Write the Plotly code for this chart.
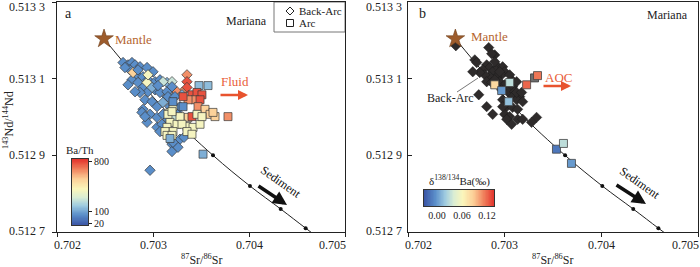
import numpy as np
import plotly.graph_objects as go

FONT = "Liberation Serif"

# ---------------- Panel a : Back-Arc (diamonds), colour = Ba/Th ----------------
a_ba_x = [0.702688, 0.702740, 0.702781, 0.702813, 0.702865, 0.702938, 0.703000, 0.702760,
          0.702833, 0.702896, 0.702948, 0.703021, 0.703073, 0.703146, 0.703198, 0.702781,
          0.702844, 0.702896, 0.702948, 0.703021, 0.703073, 0.703146, 0.703208, 0.702865,
          0.702917, 0.702990, 0.703042, 0.703104, 0.703177, 0.702896, 0.702969, 0.703042,
          0.703104, 0.703156, 0.703250, 0.703281, 0.702938, 0.703042, 0.703094, 0.702792,
          0.702938, 0.703104, 0.703354, 0.703354, 0.703354, 0.703302, 0.703250, 0.703198,
          0.703281, 0.703323, 0.703198, 0.703260, 0.702969, 0.702885, 0.702917, 0.703073,
          0.703208, 0.703146, 0.703198, 0.703156, 0.703302, 0.703229, 0.702708, 0.702844,
          0.702948, 0.702990, 0.703052, 0.702740, 0.702813]
a_ba_y = [0.513142, 0.513136, 0.513142, 0.513136, 0.513131, 0.513129, 0.513118, 0.513123,
          0.513110, 0.513105, 0.513097, 0.513092, 0.513097, 0.513090, 0.513092, 0.513097,
          0.513090, 0.513077, 0.513066, 0.513071, 0.513064, 0.513053, 0.513051, 0.513064,
          0.513045, 0.513040, 0.513027, 0.513038, 0.513027, 0.513020, 0.513007, 0.512999,
          0.513007, 0.512994, 0.513014, 0.513027, 0.512986, 0.512973, 0.512981, 0.513116,
          0.513090, 0.513092, 0.513110, 0.513092, 0.513077, 0.513064, 0.513066, 0.512929,
          0.512942, 0.512947, 0.512910, 0.512921, 0.512861, 0.513012, 0.513001, 0.512962,
          0.512934, 0.513066, 0.513079, 0.513053, 0.513058, 0.513053, 0.513129, 0.513123,
          0.513110, 0.513077, 0.513082, 0.513084, 0.513066]
a_ba_bath = [80, 80, 80, 80, 80, 80, 80, 80,
             80, 80, 80, 80, 80, 130, 270, 80,
             80, 80, 80, 80, 80, 80, 80, 80,
             80, 80, 80, 130, 80, 80, 80, 80,
             80, 80, 80, 80, 80, 80, 80, 550,
             400, 270, 670, 780, 780, 670, 670, 80,
             80, 80, 80, 80, 80, 80, 80, 80,
             80, 80, 80, 80, 130, 80, 80, 80,
             400, 130, 80, 80, 80]

# ---------------- Panel a : Arc (squares), colour = Ba/Th ----------------
a_arc_x = [0.703479, 0.703573, 0.703406, 0.703458, 0.703510, 0.703438, 0.703490, 0.703365,
           0.703313, 0.703469, 0.703542, 0.703594, 0.703646, 0.703781, 0.703313, 0.703208,
           0.703177, 0.703208, 0.703177, 0.703250, 0.703365, 0.703406, 0.703458, 0.703354,
           0.703417, 0.703490, 0.703156, 0.703146, 0.703208, 0.703125, 0.703281, 0.703302,
           0.703625, 0.703354, 0.703406, 0.703521, 0.703146, 0.703198, 0.703177, 0.703198,
           0.703510, 0.703208]
a_arc_y = [0.513082, 0.513082, 0.513058, 0.513064, 0.513058, 0.513045, 0.513045, 0.513045,
           0.513053, 0.513027, 0.513020, 0.513007, 0.513001, 0.513001, 0.513027, 0.513027,
           0.513012, 0.512999, 0.512986, 0.512981, 0.512999, 0.513001, 0.513007, 0.512975,
           0.512973, 0.512981, 0.513007, 0.512973, 0.512962, 0.512962, 0.513001, 0.512981,
           0.513012, 0.512962, 0.512955, 0.512903, 0.512952, 0.512952, 0.512944, 0.513014,
           0.513001, 0.513040]
a_arc_bath = [160, 160, 780, 780, 780, 670, 780, 670,
              780, 670, 550, 550, 550, 670, 80, 400,
              400, 270, 400, 400, 550, 780, 400, 400,
              400, 400, 400, 400, 400, 400, 400, 400,
              550, 400, 400, 130, 400, 400, 130, 400,
              400, 80]

# ---------------- Panel b : Back-Arc (black diamonds) ----------------
b_ba_x = [0.702495, 0.702691, 0.702711, 0.702835, 0.702897, 0.702814, 0.702845, 0.702773,
          0.702876, 0.702928, 0.702979, 0.703000, 0.702969, 0.702918, 0.702845, 0.702794,
          0.702814, 0.702866, 0.702948, 0.703000, 0.703082, 0.703031, 0.702969, 0.703103,
          0.703082, 0.703155, 0.703124, 0.703186, 0.702979, 0.703021, 0.703082, 0.702814,
          0.702732, 0.702876, 0.703000, 0.703052, 0.703021, 0.703072, 0.703134, 0.703186,
          0.703330, 0.703278, 0.703072, 0.703124, 0.702979, 0.703134, 0.702866, 0.702742,
          0.702670, 0.703124, 0.703175, 0.702897, 0.702948, 0.702897, 0.703052]
b_ba_y = [0.513186, 0.513149, 0.513142, 0.513181, 0.513162, 0.513136, 0.513129, 0.513123,
          0.513118, 0.513131, 0.513131, 0.513118, 0.513110, 0.513105, 0.513105, 0.513110,
          0.513092, 0.513090, 0.513092, 0.513084, 0.513079, 0.513066, 0.513071, 0.513066,
          0.513053, 0.513053, 0.513045, 0.513040, 0.513045, 0.513027, 0.513025, 0.513027,
          0.513058, 0.513007, 0.513007, 0.513001, 0.512994, 0.512981, 0.512994, 0.512994,
          0.512999, 0.512986, 0.513097, 0.513092, 0.513027, 0.513020, 0.513165, 0.513116,
          0.513118, 0.513064, 0.513064, 0.513144, 0.513118, 0.513097, 0.513110]

# ---------------- Panel b : Arc (squares), colour = d138/134Ba ----------------
b_arc_x = [0.703309, 0.702897, 0.703052, 0.702969, 0.703041, 0.703227, 0.703340,
           0.703536, 0.703608, 0.703691]
b_arc_y = [0.513102, 0.513084, 0.513090, 0.513069, 0.513040, 0.513084, 0.513108,
           0.512916, 0.512931, 0.512879]
b_arc_dba = [None, 0.08, 0.03, 0.00, 0.015, 0.12, 0.115, -0.015, 0.03, 0.00]

# ---------------- Mixing line (mantle - sediment) ----------------
mix_x = [0.70249, 0.70312, 0.703625, 0.70401, 0.70433, 0.70459, 0.70475]
mix_y = [0.513204, 0.513020, 0.512900, 0.512820, 0.512760, 0.512710, 0.512680]
mix_tick_x = [0.70312, 0.703625, 0.70401, 0.70433, 0.70459]
mix_tick_y = [0.513020, 0.512900, 0.512820, 0.512760, 0.512710]
mantle_x, mantle_y = 0.70249, 0.513204

x_ticks = [0.702, 0.703, 0.704, 0.705]
x_ticktext = ["0.702", "0.703", "0.704", "0.705"]
y_ticks = [0.5127, 0.5129, 0.5131, 0.5133]
y_ticktext = ["0.512 7", "0.512 9", "0.513 1", "0.513 3"]

bath_ticks = [20, 100, 800]
dba_ticks = [0.00, 0.06, 0.12]
dba_range = [-0.031, 0.137]

# Ba/Th colour bar is non-linear: 20 -> 0.03, 100 -> 0.2, 800 -> 0.96
bath_knots = [20, 100, 800]
bath_pos = [0.03, 0.2, 0.96]
def bath_scale(v):
    return np.interp(v, bath_knots, bath_pos)

cscale = [[0.0, "#3953a4"], [0.16, "#5b8fca"], [0.3, "#9fcbe0"], [0.42, "#d9edd4"],
          [0.55, "#fbf6bb"], [0.7, "#fccf97"], [0.85, "#f0805c"], [1.0, "#e2302b"]]

W, H = 700, 267
def px(x):
    return x / W
def py(y):
    return 1 - y / H

A_L, A_R, B_L, B_R, TOP, BOT = 57, 345, 408, 698, 2, 232
def xpix(v, left, right):
    return left + (v - 0.702) / 0.003 * (right - left)
def ypix(v):
    return BOT - (v - 0.5127) / 0.0006 * (BOT - TOP)

fig = go.Figure()

for xa, ya in (("x", "y"), ("x2", "y2")):
    fig.add_trace(go.Scatter(x=mix_x, y=mix_y, mode="lines", line=dict(color="#222", width=1, shape="spline"),
                             xaxis=xa, yaxis=ya, showlegend=False, hoverinfo="skip"))

fig.add_trace(go.Scatter(x=a_ba_x, y=a_ba_y, mode="markers", xaxis="x", yaxis="y", showlegend=False,
                         marker=dict(symbol="diamond", size=8, color=bath_scale(a_ba_bath),
                                     colorscale=cscale, cmin=0, cmax=1, showscale=False,
                                     line=dict(color="#3a3a3a", width=0.7))))
fig.add_trace(go.Scatter(x=a_arc_x, y=a_arc_y, mode="markers", xaxis="x", yaxis="y", showlegend=False,
                         marker=dict(symbol="square", size=8, color=bath_scale(a_arc_bath),
                                     colorscale=cscale, cmin=0, cmax=1, showscale=False,
                                     line=dict(color="#3a3a3a", width=0.7))))
for xa, ya, tx, ty in (("x", "y", mix_tick_x[1:], mix_tick_y[1:]), ("x2", "y2", mix_tick_x, mix_tick_y)):
    fig.add_trace(go.Scatter(x=tx, y=ty, mode="markers", xaxis=xa, yaxis=ya, showlegend=False,
                             marker=dict(size=4, color="#111")))

fig.add_trace(go.Scatter(x=b_ba_x, y=b_ba_y, mode="markers", xaxis="x2", yaxis="y2", showlegend=False,
                         marker=dict(symbol="diamond", size=8, color="#2e2b2b", line=dict(color="#1a1a1a", width=0.5))))
fig.add_trace(go.Scatter(x=b_arc_x[:1], y=b_arc_y[:1], mode="markers", xaxis="x2", yaxis="y2", showlegend=False,
                         marker=dict(symbol="square", size=8, color="#6f6f6f", line=dict(color="#333", width=0.8))))
fig.add_trace(go.Scatter(x=b_arc_x[1:], y=b_arc_y[1:], mode="markers", xaxis="x2", yaxis="y2", showlegend=False,
                         marker=dict(symbol="square", size=8, color=b_arc_dba[1:], colorscale=cscale,
                                     cmin=dba_range[0], cmax=dba_range[1], showscale=False,
                                     line=dict(color="#444", width=0.8))))

for xa, ya in (("x", "y"), ("x2", "y2")):
    fig.add_trace(go.Scatter(x=[mantle_x], y=[mantle_y], mode="markers", xaxis=xa, yaxis=ya, showlegend=False,
                             marker=dict(symbol="star", size=14, color="#9d5c2c", line=dict(color="#6e3e1a", width=0.6))))

grad = np.linspace(0, 1, 120)
fig.add_trace(go.Heatmap(z=grad.reshape(-1, 1), x=[0], y=grad, colorscale=cscale, zmin=0, zmax=1,
                         showscale=False, xaxis="x3", yaxis="y3", hoverinfo="skip"))
gradb = np.linspace(dba_range[0], dba_range[1], 120)
fig.add_trace(go.Heatmap(z=gradb.reshape(1, -1), x=gradb, y=[0], colorscale=cscale,
                         zmin=dba_range[0], zmax=dba_range[1],
                         showscale=False, xaxis="x4", yaxis="y4", hoverinfo="skip"))

axis_common = dict(showline=True, linecolor="#222", linewidth=1, mirror=True, ticklen=4,
                   tickcolor="#222", showgrid=False, zeroline=False, showticklabels=False)
cb_axis = dict(showline=True, linecolor="#333", linewidth=1, mirror=True, showgrid=False, zeroline=False)

fig.update_layout(
    width=W, height=H, margin=dict(l=0, r=0, t=0, b=0, autoexpand=False),
    paper_bgcolor="white", plot_bgcolor="white",
    font=dict(family=FONT, size=12, color="#222"),
    xaxis=dict(domain=[px(A_L), px(A_R)], range=[0.702, 0.705], tickvals=x_ticks, ticks="outside",
               anchor="y", **axis_common),
    yaxis=dict(domain=[py(BOT), py(TOP)], range=[0.5127, 0.5133], tickvals=y_ticks, ticks="outside",
               anchor="x", **axis_common),
    xaxis2=dict(domain=[px(B_L), px(B_R)], range=[0.702, 0.705], tickvals=x_ticks, ticks="outside",
                anchor="y2", **axis_common),
    yaxis2=dict(domain=[py(BOT), py(TOP)], range=[0.5127, 0.5133], tickvals=y_ticks, ticks="inside",
                anchor="x2", **axis_common),
    xaxis3=dict(domain=[px(72), px(88)], range=[-0.5, 0.5], showticklabels=False, ticks="",
                anchor="y3", **cb_axis),
    yaxis3=dict(domain=[py(225), py(159)], range=[0, 1], side="right", tickvals=list(bath_scale(bath_ticks)),
                ticktext=[str(v) for v in bath_ticks], ticks="outside", ticklen=3, tickcolor="#222",
                tickfont=dict(family=FONT, size=10, color="#222"), anchor="x3", **cb_axis),
    xaxis4=dict(domain=[px(424), px(494)], range=dba_range, tickvals=dba_ticks,
                ticktext=["%.2f" % v for v in dba_ticks], ticks="",
                tickfont=dict(family=FONT, size=10, color="#222"), anchor="y4", **cb_axis),
    yaxis4=dict(domain=[py(206), py(190)], range=[-0.5, 0.5], showticklabels=False, ticks="",
                anchor="x4", **cb_axis),
)

ann = []
def text(x, y, s, size=12, color="#222", angle=0, xanchor="center"):
    ann.append(dict(x=px(x), y=py(y), xref="paper", yref="paper", text=s, showarrow=False,
                    font=dict(family=FONT, size=size, color=color), textangle=angle,
                    xanchor=xanchor, yanchor="middle"))

def arrow(x0, y0, x1, y1, color, width, size=1.0):
    ann.append(dict(x=px(x1), y=py(y1), xref="paper", yref="paper", ax=x0 - x1, ay=y0 - y1,
                    axref="pixel", ayref="pixel", text="", showarrow=True, arrowhead=2,
                    arrowsize=size, arrowwidth=width, arrowcolor=color))

for left, right, lab_right in ((A_L, A_R, 47), (B_L, B_R, 404)):
    for v, t in zip(y_ticks, y_ticktext):
        yy = min(max(ypix(v), 7), 231)
        text(lab_right, yy, t, 12, xanchor="right")
    for v, t in zip(x_ticks, x_ticktext):
        xx = min(max(xpix(v, left, right), left + 10), right - 13)
        text(xx, 245, t, 12)

# panel a texts
text(68, 13, "a", 14)
text(246, 21, "Mariana", 12)
text(113, 39, "Mantle", 13, "#b4652f", xanchor="left")
text(219, 82, "Fluid", 13, "#e9603a", xanchor="left")
arrow(219, 95, 248, 95, "#e8532e", 2.5, 0.8)
text(281, 182, "Sediment", 12, "#111", 35)
arrow(257, 185, 287, 205, "#111", 3.5, 0.8)
text(201, 259, "<sup>87</sup>Sr/<sup>86</sup>Sr", 12)
text(8, 120, "<sup>143</sup>Nd/<sup>144</sup>Nd", 12, angle=-90)
text(80, 150, "Ba/Th", 11)
text(297, 11, "Back-Arc", 11, xanchor="left")
text(297, 23, "Arc", 11, xanchor="left")

# panel b texts
text(422, 13, "b", 14)
text(667, 15, "Mariana", 12)
text(469, 36, "Mantle", 13, "#b4652f", xanchor="left")
text(543, 77, "AOC", 13, "#e9603a", xanchor="left")
arrow(542, 86, 571, 86, "#e8532e", 2.5, 0.8)
text(450, 98, "Back-Arc", 12, "#222")
text(640, 183, "Sediment", 12, "#111", 35)
arrow(615, 184, 646, 204, "#111", 3.5, 0.8)
text(552, 259, "<sup>87</sup>Sr/<sup>86</sup>Sr", 12)
text(459, 180, "δ<sup>138/134</sup>Ba(‰)", 11)

fig.update_layout(annotations=ann)

shapes = [
    dict(type="rect", xref="paper", yref="paper", x0=px(274), x1=px(345), y0=py(32), y1=py(2),
         line=dict(color="#777", width=1), fillcolor="white", layer="below"),
    dict(type="path", xref="paper", yref="paper",
         path="M %f,%f L %f,%f L %f,%f L %f,%f Z" % (px(290), py(7), px(294), py(11), px(290), py(15), px(286), py(11)),
         line=dict(color="#222", width=1)),
    dict(type="rect", xref="paper", yref="paper", x0=px(286.5), x1=px(293.5), y0=py(26.5), y1=py(19.5),
         line=dict(color="#222", width=1)),
    dict(type="line", xref="paper", yref="paper", x0=px(457), y0=py(92), x1=px(478), y1=py(78),
         line=dict(color="#555", width=0.8)),
]
fig.update_layout(shapes=shapes)

# the page's default 8px body margin would otherwise shift the 700x267 figure
fig.write_html("out.html", config={"displayModeBar": False},
               post_script="document.body.style.margin='0px';")
